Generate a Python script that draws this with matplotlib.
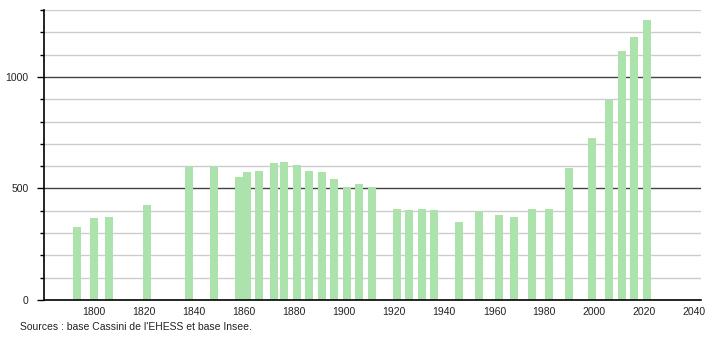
import numpy as np
import matplotlib.pyplot as plt

# population data
years = [1793, 1800, 1806, 1821, 1838, 1848, 1858, 1861, 1866, 1872, 1876,
         1881, 1886, 1891, 1896, 1901, 1906, 1911, 1921, 1926, 1931, 1936,
         1946, 1954, 1962, 1968, 1975, 1982, 1990, 1999, 2006, 2011, 2016, 2021]
population = [327, 369, 374, 428, 598, 598, 550, 572, 580, 613, 617,
              605, 580, 572, 541, 505, 520, 505, 410, 405, 410, 405,
              351, 398, 383, 374, 410, 410, 593, 728, 897, 1117, 1181, 1256]
x_ticks = [1800, 1820, 1840, 1860, 1880, 1900, 1920, 1940, 1960, 1980, 2000, 2020, 2040]
y_labels = [0, 500, 1000]
source_text = "Sources : base Cassini de l'EHESS et base Insee."

plt.rcParams['font.family'] = ['Liberation Sans', 'DejaVu Sans']
fs = 7.5

fig = plt.figure(figsize=(7.1, 3.4), dpi=100)
ax = fig.add_axes([44 / 710, 1 - 300 / 340, (701 - 44) / 710, 290 / 340])

# grid lines: light every 100, darker every 500
for v in range(100, 1400, 100):
    if v % 500 == 0:
        ax.axhline(v, color='#444444', lw=1.0, zorder=1)
    else:
        ax.axhline(v, color='#cccccc', lw=1.0, zorder=1)

ax.bar(years, population, width=3.2, color='#ace3ac', zorder=2)

ax.set_xlim(1780, 2042.6)
ax.set_ylim(0, 1300)

ax.set_xticks(x_ticks)
ax.set_xticklabels([str(t) for t in x_ticks], fontsize=fs, color='#222222')
ax.tick_params(axis='x', length=0, pad=5)

ax.set_yticks(y_labels)
ax.set_yticklabels([str(t) for t in y_labels], fontsize=fs, color='#222222')
ax.set_yticks(range(0, 1400, 100), minor=True)
ax.tick_params(axis='y', which='major', length=5, width=1, pad=6)
ax.tick_params(axis='y', which='minor', length=3, width=1)

for s in ['top', 'right']:
    ax.spines[s].set_visible(False)
ax.spines['left'].set_linewidth(1.2)
ax.spines['bottom'].set_linewidth(1.2)

fig.text(20 / 710, 1 - 327 / 340, source_text, fontsize=fs, color='#222222', va='center')

fig.savefig('out.png', dpi=100)
